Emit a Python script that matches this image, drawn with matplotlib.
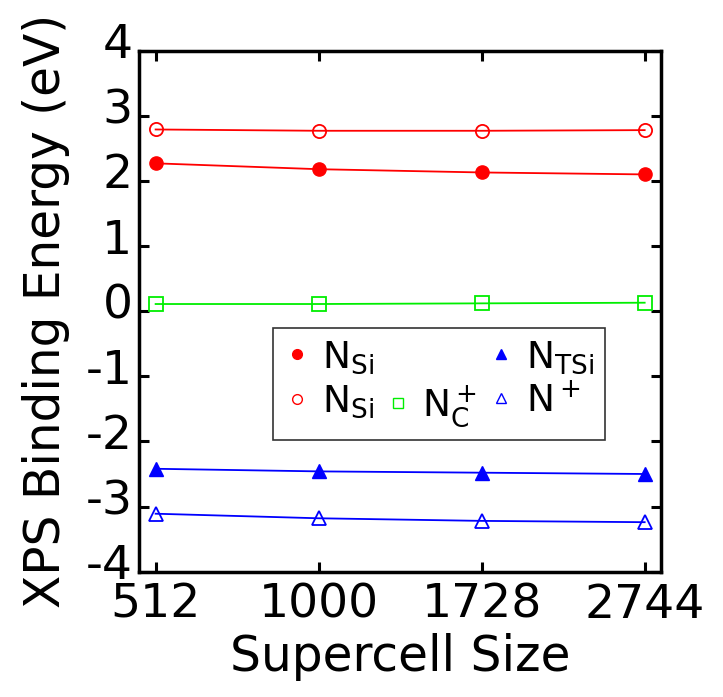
import matplotlib.pyplot as plt
import matplotlib.transforms as mtransforms
from matplotlib.lines import Line2D

# supercell edge (8,10,12,14) -> size = edge^3
edge = [8, 10, 12, 14]
size_labels = ['512', '1000', '1728', '2744']

n_si_filled = [2.27, 2.18, 2.13, 2.10]
n_si_open = [2.79, 2.77, 2.77, 2.78]
n_c_plus = [0.11, 0.11, 0.12, 0.13]
n_tsi = [-2.42, -2.46, -2.48, -2.50]
n_plus = [-3.11, -3.18, -3.22, -3.24]

plt.rcParams['font.family'] = 'DejaVu Sans'
plt.rcParams['mathtext.fontset'] = 'dejavusans'
plt.rcParams['axes.unicode_minus'] = False

fig = plt.figure(figsize=(7.23, 6.97), dpi=100)
ax = fig.add_axes([0.1927, 0.1798, 0.7215, 0.7475])

ms = 9.5
ax.plot(edge, n_si_open, '-', color='red', lw=1.3, marker='o', ms=ms,
        mfc='none', mec='red', mew=1.3)
ax.plot(edge, n_si_filled, '-', color='red', lw=1.3, marker='o', ms=ms,
        mfc='red', mec='red')
ax.plot(edge, n_c_plus, '-', color='#00ee00', lw=1.3, marker='s', ms=ms,
        mfc='none', mec='#00ee00', mew=1.3)
ax.plot(edge, n_tsi, '-', color='blue', lw=1.3, marker='^', ms=ms,
        mfc='blue', mec='blue')
ax.plot(edge, n_plus, '-', color='blue', lw=1.3, marker='^', ms=ms,
        mfc='none', mec='blue', mew=1.3)

ax.set_xlim(7.8, 14.2)
ax.set_ylim(-4, 4)
ax.set_xticks(edge)
ax.set_xticklabels(size_labels)
ax.set_yticks(range(-4, 5))
ax.tick_params(direction='in', length=7, width=2.2, top=True, right=True,
               labelsize=34)
ax.tick_params(axis='x', pad=8)
ax.tick_params(axis='y', pad=5)
for s in ax.spines.values():
    s.set_linewidth(2.5)

# y tick labels sit a little above their ticks in the original
shift = mtransforms.ScaledTranslation(0, 0.10, fig.dpi_scale_trans)
for lab in ax.get_yticklabels():
    lab.set_transform(lab.get_transform() + shift)

ax.set_xlabel('Supercell Size', fontsize=35, labelpad=4)
ax.set_ylabel('XPS Binding Energy (eV)', fontsize=35, labelpad=11)

handles = [
    Line2D([], [], ls='none', marker='o', ms=7, mfc='red', mec='red'),
    Line2D([], [], ls='none', marker='o', ms=7, mfc='none', mec='red'),
    Line2D([], [], ls='none'),
    Line2D([], [], ls='none', marker='s', ms=7, mfc='none', mec='#00ee00'),
    Line2D([], [], ls='none', marker='^', ms=7, mfc='blue', mec='blue'),
    Line2D([], [], ls='none', marker='^', ms=7, mfc='none', mec='blue'),
]
labels = [r'$\mathregular{N_{Si}}$', r'$\mathregular{N_{Si}}$', '',
          r'$\mathregular{N_C^+}$', r'$\mathregular{N_{TSi}}$',
          r'$\mathregular{N^+}$']
leg = ax.legend(handles, labels, ncol=3, loc='upper left',
                bbox_to_anchor=(273 / 723, 1 - 328 / 697),
                bbox_transform=fig.transFigure, borderaxespad=0,
                fontsize=27, frameon=True, fancybox=False,
                handlelength=0.7, handletextpad=0.3, columnspacing=0.3,
                labelspacing=0.2, borderpad=0.3)
leg.get_frame().set_edgecolor('black')
leg.get_frame().set_linewidth(1.2)

fig.savefig('out.png', dpi=100)
